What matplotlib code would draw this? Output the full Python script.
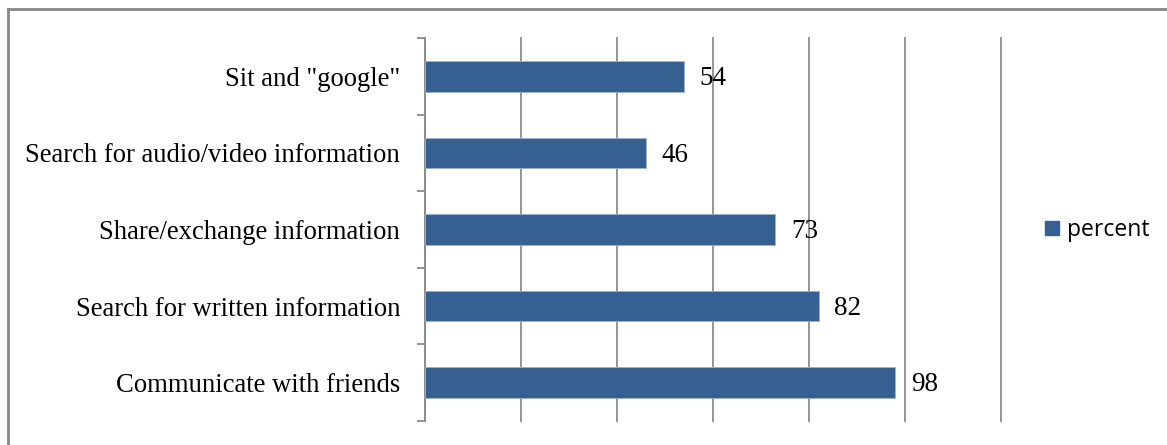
import matplotlib
matplotlib.use("Agg")
import matplotlib.pyplot as plt
from matplotlib.lines import Line2D

categories = ["Communicate with friends", "Search for written information",
              "Share/exchange information", "Search for audio/video information",
              'Sit and "google"']
percent = [98, 82, 73, 46, 54]
x_ticks = [0, 20, 40, 60, 80, 100, 120]

BAR = "#376092"
GRID = "#8c8c8c"

fig = plt.figure(figsize=(11.67, 4.45), dpi=100)
ax = fig.add_axes([425 / 1167, 24 / 445, 576 / 1167, 383 / 445])

ypos = range(len(categories))
ax.barh(ypos, percent, height=0.4, color=BAR, edgecolor="#9db3d0",
        linewidth=0.6, zorder=3, label="percent")
for y, v in zip(ypos, percent):
    ax.text(v + 3.2, y - 0.03, f"{v}", va="center", ha="left", fontsize=19.5,
            family="Liberation Serif", zorder=4)

ax.set_xlim(x_ticks[0], x_ticks[-1])
ax.set_ylim(-0.5, len(categories) - 0.5)
ax.set_xticks(x_ticks)
ax.set_xticklabels([])
ax.tick_params(axis="x", length=0)
ax.grid(axis="x", color=GRID, linewidth=1.3, zorder=0)
for gl in ax.get_xgridlines():
    gl.set_clip_on(False)

# category labels centred on bars, tick marks on the boundaries
ax.set_yticks(list(ypos))
ax.set_yticklabels(categories, family="Liberation Serif", fontsize=19.2)
ax.tick_params(axis="y", which="major", length=0, pad=18)
ax.set_yticks([i - 0.5 for i in range(len(categories) + 1)], minor=True)
ax.tick_params(axis="y", which="minor", length=6, width=1.3, color=GRID)

for side in ("top", "right", "bottom"):
    ax.spines[side].set_visible(False)
ax.spines["left"].set_color(GRID)
ax.spines["left"].set_linewidth(1.3)

fig.legend(handles=[Line2D([], [], marker="s", ls="", color=BAR,
                           markersize=10.5, label="percent")],
           loc="center left", bbox_to_anchor=(1020 / 1167, 1 - 230 / 445),
           frameon=False, handletextpad=0.15, handlelength=1.0,
           prop={"family": "Open Sans", "size": 16.5})

# outer chart-area frame (only top and left edges are inside the image)
fig.add_artist(Line2D([7.5 / 1167, 7.5 / 1167], [0, 1 - 8.5 / 445],
                      transform=fig.transFigure, color="#868686", lw=2))
fig.add_artist(Line2D([7.5 / 1167, 1], [1 - 8.5 / 445, 1 - 8.5 / 445],
                      transform=fig.transFigure, color="#868686", lw=2))

fig.savefig("out.png", dpi=100)
